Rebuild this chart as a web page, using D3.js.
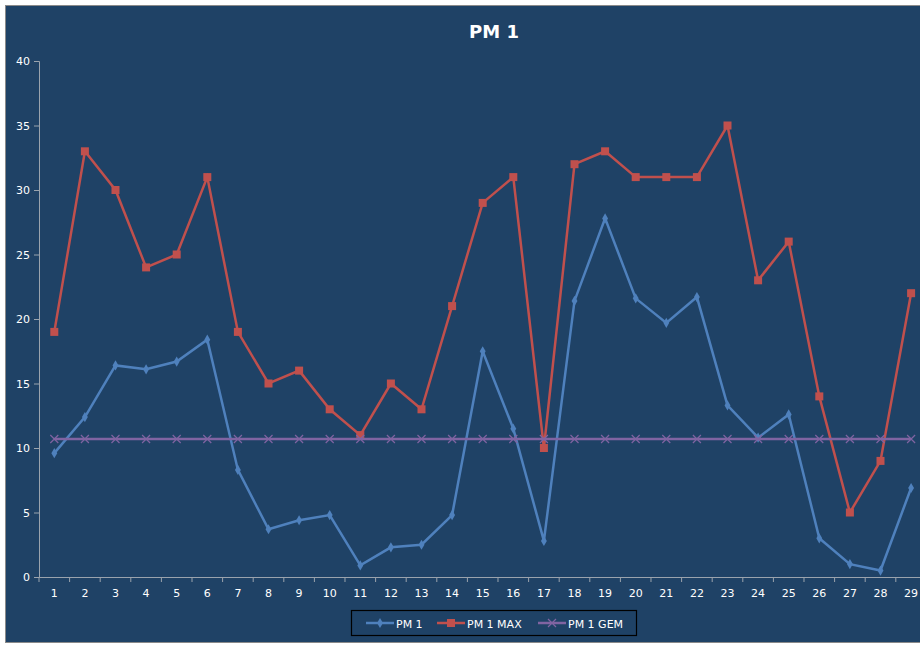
<!DOCTYPE html>
<html><head><meta charset="utf-8">
<script src="https://cdn.jsdelivr.net/npm/d3@7"></script>
<style>body{margin:0;background:#fff}text{font-family:"DejaVu Sans",sans-serif}</style>
</head><body><svg id="c" width="920" height="671"></svg>
<script>
const days = d3.range(1, 30);
const pm1 = [9.6,12.4,16.4,16.1,16.7,18.4,8.3,3.7,4.4,4.8,0.9,2.3,2.5,4.8,17.5,11.5,2.8,21.4,27.8,21.6,19.7,21.7,13.3,10.8,12.6,3.0,1.0,0.5,6.9];
const pm1Max = [19,33,30,24,25,31,19,15,16,13,11,15,13,21,29,31,10,32,33,31,31,31,35,23,26,14,5,9,22];
const pm1Gem = days.map(() => 10.7);
const yTicks = [0,5,10,15,20,25,30,35,40];

const svg = d3.select("#c");
svg.append("rect").attr("x",5.5).attr("y",5.5).attr("width",920).attr("height",637)
	.attr("fill","#1F4266").attr("stroke","#8a8a8a");

const x = d3.scaleBand().domain(days).range([39, 39 + 30.6*29]);
const y = d3.scaleLinear().domain([0,40]).range([577, 61]);

svg.append("text").attr("x",494).attr("y",38).attr("text-anchor","middle")
	.attr("fill","#fff").attr("font-size",18).attr("font-weight","bold").text("PM 1");

const ya = svg.append("g").attr("transform","translate(39,0)")
	.call(d3.axisLeft(y).tickValues(yTicks).tickSize(5).tickPadding(4));
const xa = svg.append("g").attr("transform","translate(0,577)")
	.call(d3.axisBottom(x).tickSize(0).tickPadding(12));
xa.selectAll(".tick").append("line").attr("x1",-x.bandwidth()/2).attr("x2",-x.bandwidth()/2).attr("y2",5);
[ya, xa].forEach(a => {
	a.selectAll("path,line").attr("stroke","#9aa3ad");
	a.selectAll("text").attr("fill","#fff").attr("font-size",11);
});

const cx = d => x(d) + x.bandwidth()/2;
const series = [
	{vals: pm1, col: "#4F81BD", mark: "diamond"},
	{vals: pm1Max, col: "#C0504D", mark: "square"},
	{vals: pm1Gem, col: "#8064A2", mark: "x"}
];
const line = d3.line().x((v,i) => cx(days[i])).y(v => y(v));
function marker(g, type, col, s) {
	if (type === "diamond") g.append("path").attr("d", d3.symbol(d3.symbolDiamond, 30)()).attr("fill", col);
	else if (type === "square") g.append("rect").attr("x",-4).attr("y",-4).attr("width",8).attr("height",8).attr("fill",col);
	else g.append("path").attr("d","M-4,-4L4,4M-4,4L4,-4").attr("stroke",col).attr("stroke-width",1.2);
}
series.forEach(s => {
	svg.append("path").datum(s.vals).attr("d", line).attr("fill","none")
		.attr("stroke", s.col).attr("stroke-width", 2.5);
	s.vals.forEach((v,i) => marker(svg.append("g").attr("transform",`translate(${cx(days[i])},${y(v)})`), s.mark, s.col));
});

// legend
const lg = svg.append("g");
lg.append("rect").attr("x",351.5).attr("y",610.5).attr("width",285).attr("height",25)
	.attr("fill","none").attr("stroke","#000").attr("stroke-width",1.2);
const names = ["PM 1","PM 1 MAX","PM 1 GEM"];
const lx = [366, 437, 538];
series.forEach((s,i) => {
	lg.append("line").attr("x1",lx[i]).attr("x2",lx[i]+28).attr("y1",623).attr("y2",623)
		.attr("stroke",s.col).attr("stroke-width",2.5);
	marker(lg.append("g").attr("transform",`translate(${lx[i]+14},623)`), s.mark, s.col);
	lg.append("text").attr("x",lx[i]+30).attr("y",627.5).attr("fill","#fff").attr("font-size",11).text(names[i]);
});
</script></body></html>
